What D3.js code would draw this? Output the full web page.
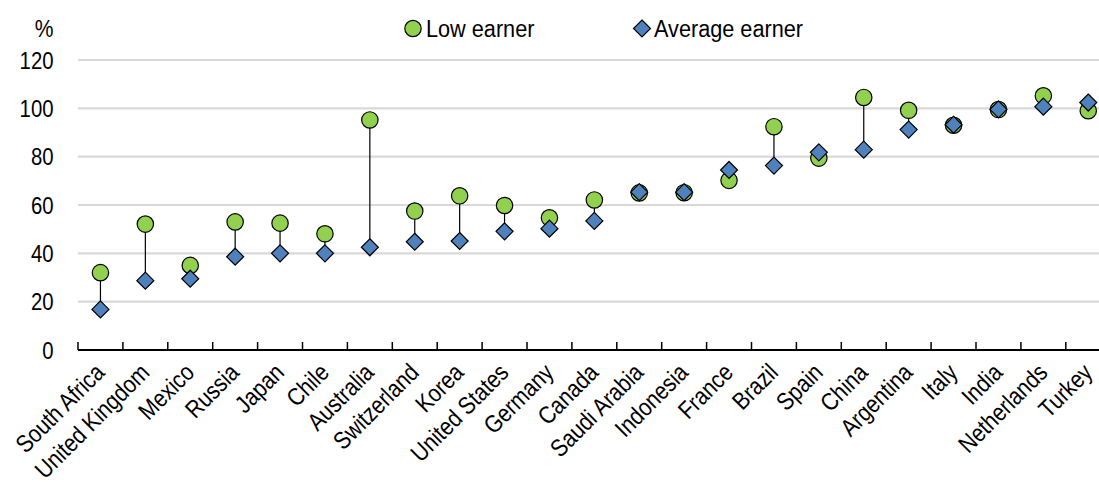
<!DOCTYPE html>
<html>
<head>
<meta charset="utf-8">
<script src="https://cdn.jsdelivr.net/npm/d3@7"></script>
<style>
  body { margin: 0; background: #fff; }
  svg { display: block; }
  text { font-family: "Liberation Sans", Arial, sans-serif; fill: #000; font-size: 24.5px; }
</style>
</head>
<body>
<svg id="chart" width="1099" height="482"></svg>
<script>
var countries = ["South Africa","United Kingdom","Mexico","Russia","Japan","Chile","Australia",
  "Switzerland","Korea","United States","Germany","Canada","Saudi Arabia","Indonesia","France",
  "Brazil","Spain","China","Argentina","Italy","India","Netherlands","Turkey"];
var lowEarner = [32.0,52.1,35.0,53.0,52.5,48.1,95.2,57.5,63.8,59.8,54.7,62.1,65.0,65.1,70.2,
  92.4,79.4,104.5,99.2,93.0,99.5,105.2,99.0];
var avgEarner = [16.8,28.7,29.5,38.6,40.0,40.0,42.5,44.8,45.1,49.1,50.2,53.4,65.3,65.3,74.5,
  76.3,81.8,82.9,91.2,93.2,99.6,100.7,102.4];
var yTicks = [0,20,40,60,80,100,120];
var seriesNames = ["Low earner","Average earner"];

// no narrow font installed, squeeze the regular one
var narrow = 0.86, narrowNum = 0.83, narrowLeg = 0.885

var svg = d3.select("#chart")
var data = countries.map(function(c,i){ return {name:c, low:lowEarner[i], avg:avgEarner[i]} })

var x = d3.scaleBand().domain(countries).range([78, 1110.7]).padding(0)
var y = d3.scaleLinear().domain([0,120]).range([350,60])
function cx(name){ return x(name) + x.bandwidth()/2 }

// gridlines
svg.append("g").selectAll("line")
  .data(yTicks.filter(function(d){return d>0}))
  .enter().append("line")
  .attr("x1", 78).attr("x2", 1110)
  .attr("y1", function(d){return y(d)}).attr("y2", function(d){return y(d)})
  .style("stroke","#d9d9d9").style("stroke-width",2.2)

// y labels
svg.append("g").selectAll("text")
  .data(yTicks).enter().append("text")
  .attr("transform", function(d){return "translate(53.5," + y(d) + ") scale(" + narrowNum + ",1)"})
  .attr("dy","0.36em")
  .style("text-anchor","end")
  .text(function(d){return d})

svg.append("text").attr("transform","translate(53.5,36.5) scale(" + narrow + ",1)")
  .style("text-anchor","end").text("%")

// x axis line and ticks between categories
var bounds = countries.map(function(d){return x(d)}).concat([x.range()[1]])
svg.append("line").attr("x1",78).attr("x2",1110).attr("y1",350).attr("y2",350)
  .style("stroke","#000").style("stroke-width",2)
svg.append("g").selectAll("line").data(bounds).enter().append("line")
  .attr("x1",function(d){return d}).attr("x2",function(d){return d})
  .attr("y1",342).attr("y2",350)
  .style("stroke","#000").style("stroke-width",1.5)

// category labels
svg.append("g").selectAll("text").data(countries).enter().append("text")
  .attr("transform",function(d){return "translate(" + (cx(d)+5.5) + ",374) rotate(-45) scale(" + narrow + ",1)"})
  .style("text-anchor","end")
  .text(function(d){return d})

// connectors
svg.append("g").selectAll("line").data(data).enter().append("line")
  .attr("x1",function(d){return cx(d.name)})
  .attr("x2",function(d){return cx(d.name)})
  .attr("y1",function(d){return y(d.low)}).attr("y2",function(d){return y(d.avg)})
  .style("stroke","#000").style("stroke-width",1.2)

var diamond = "M0,-8.5L8.5,0L0,8.5L-8.5,0Z"

svg.append("g").selectAll("circle").data(data).enter().append("circle")
  .attr("cx",function(d){return cx(d.name)})
  .attr("cy",function(d){return y(d.low)})
  .attr("r",8.2)
  .style("fill","#92d050").style("stroke","#000").style("stroke-width",1.2)

svg.append("g").selectAll("path").data(data).enter().append("path")
  .attr("d",diamond)
  .attr("transform",function(d){return "translate(" + cx(d.name) + "," + y(d.avg) + ")"})
  .style("fill","#4f81bd").style("stroke","#000").style("stroke-width",1.2)

// legend
var leg = svg.append("g")
leg.append("circle").attr("cx",413).attr("cy",28.5).attr("r",8.2)
  .style("fill","#92d050").style("stroke","#000").style("stroke-width",1.2)
leg.append("text").attr("transform","translate(426,36.5) scale(" + narrowLeg + ",1)").text(seriesNames[0])
leg.append("path").attr("d",diamond).attr("transform","translate(642,28.5)")
  .style("fill","#4f81bd").style("stroke","#000").style("stroke-width",1.2)
leg.append("text").attr("transform","translate(654,36.5) scale(" + narrowLeg + ",1)").text(seriesNames[1])
</script>
</body>
</html>
